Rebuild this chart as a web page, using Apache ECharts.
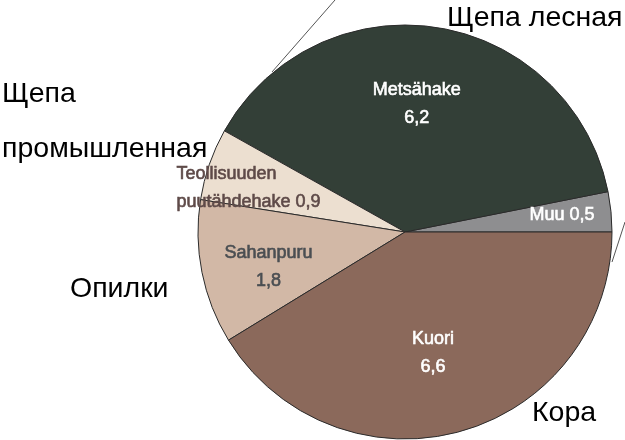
<!DOCTYPE html>
<html>
<head>
<meta charset="utf-8">
<script src="https://cdn.jsdelivr.net/npm/echarts@6/dist/echarts.min.js"></script>
<style>html,body{margin:0;padding:0;background:#fff;}#chart{width:625px;height:440px;}</style>
</head>
<body>
<div id="chart"></div>
<script>
// Data
const categories = ['Muu', 'Metsähake', 'Teollisuuden puutähdehake', 'Sahanpuru', 'Kuori'];
const values = [0.5, 6.2, 0.9, 1.8, 6.6];
const annotations = ['Щепа лесная', 'Щепа', 'промышленная', 'Опилки', 'Кора'];

// Styles (not data)
const sliceColors = ['#8e8e90', '#333f37', '#ecdfd0', '#d2b8a6', '#8b695b'];
const labelColors = ['#ffffff', '#ffffff', '#5e4a48', '#4a4e52', '#ffffff'];
const labelInline = [true, false, false, false, false];
const labelShift = [[51, -7], [-5, -23], [-128, -9], [-32, 14], [-1, 19]];
const labelAlign = ['center', 'center', 'left', 'center', 'center'];
const annotPos = [[447, 4], [2, 80], [2, 135], [70, 275], [532, 399]];

const fmt = v => String(v).replace('.', ',');

const chart = echarts.init(document.getElementById('chart'));
chart.setOption({
  animation: false,
  backgroundColor: '#ffffff',
  series: [{
    type: 'pie',
    center: [405, 232],
    radius: 207,
    startAngle: 0,
    clockwise: false,
    avoidLabelOverlap: false,
    itemStyle: { borderColor: '#2b2b2b', borderWidth: 1 },
    emphasis: { disabled: true },
    data: categories.map((c, i) => ({
      name: c,
      value: values[i],
      itemStyle: { color: sliceColors[i] },
      label: { color: labelColors[i], textBorderColor: labelColors[i], textBorderWidth: 0.6 }
    })),
    label: {
      show: true,
      position: 'inside',
      fontFamily: 'Liberation Sans, Arial',
      fontWeight: 'normal',
      fontSize: 18,
      lineHeight: 28,
      formatter: p => {
        const i = p.dataIndex;
        if (labelInline[i]) return p.name + ' ' + fmt(p.value);
        if (i === 2) return p.name.replace(' ', '\n') + ' ' + fmt(p.value);
        return p.name + '\n' + fmt(p.value);
      }
    },
    labelLine: { show: false },
    labelLayout: params => ({
      dx: labelShift[params.dataIndex][0],
      dy: labelShift[params.dataIndex][1],
      align: labelAlign[params.dataIndex]
    })
  }],
  graphic: [
    { type: 'line', shape: { x1: 335, y1: 0, x2: 272, y2: 72 }, style: { stroke: '#555', lineWidth: 1 } },
    { type: 'line', shape: { x1: 625, y1: 222, x2: 612, y2: 262 }, style: { stroke: '#555', lineWidth: 1 } }
  ].concat(annotations.map((t, i) => ({
    type: 'text',
    left: annotPos[i][0],
    top: annotPos[i][1],
    style: { text: t, fill: '#000', fontSize: 28.5, fontFamily: 'Liberation Sans, Arial' }
  })))
});
</script>
</body>
</html>
